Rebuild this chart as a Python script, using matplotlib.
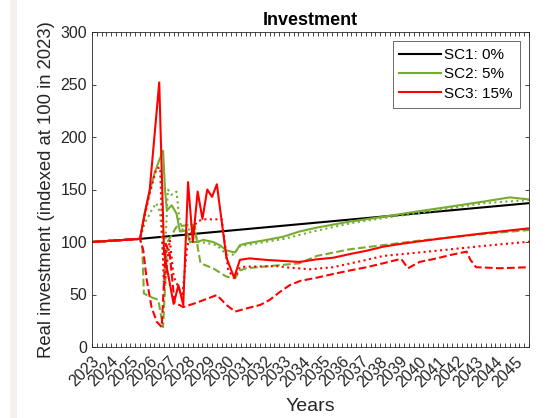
import matplotlib
matplotlib.use("Agg")
from matplotlib import pyplot as plt
from matplotlib.ticker import MultipleLocator
import matplotlib.patches as mpatches

plt.rcParams['font.family'] = ['Liberation Sans', 'DejaVu Sans']

# tick years
years = list(range(2023, 2046))
year_labels = [str(y) for y in years]

# SC1: 0%  (baseline)
sc1_t = [2023.0, 2025.5, 2045.75]
sc1_v = [100, 103, 137]

# SC2: 5%, three variants (solid / dashed / dotted)
sc2_solid_t = [2023.0, 2025.5, 2025.75, 2026.0, 2026.25, 2026.5, 2026.7, 2026.8, 2026.9, 2027.15,
               2027.4, 2027.58, 2027.9, 2028.1, 2028.45, 2028.8, 2029.3, 2029.65, 2030.0, 2030.45,
               2030.7, 2031.05, 2032.1, 2032.95, 2033.8, 2034.7, 2036.4, 2038.15, 2039.9, 2041.65,
               2043.35, 2044.75, 2045.0, 2045.75]
sc2_solid_v = [100, 103, 127, 148, 165, 178, 187, 150, 130, 135,
               127, 110, 111, 100, 100, 102, 100, 97, 92, 90,
               97, 98.7, 102, 105, 110, 113.7, 119.4, 124, 129, 133.7,
               138.4, 142.5, 142, 140.6]

sc2_dash_t = [2023.0, 2025.5, 2025.62, 2025.7, 2026.0, 2026.45, 2026.7, 2026.92, 2027.1, 2027.4,
              2027.95, 2028.35, 2028.5, 2028.65, 2029.3, 2030.0, 2030.45, 2030.7, 2031.05, 2032.8,
              2033.8, 2034.7, 2036.4, 2038.15, 2039.9, 2041.65, 2043.35, 2045.75]
sc2_dash_v = [100, 103, 95, 51, 48, 45, 19, 100, 105, 114.6,
              116, 116, 95.5, 79.7, 75, 67, 65.4, 73, 75, 78,
              79.7, 86.7, 93, 97, 101, 104.4, 107.6, 111.4]

sc2_dot_t = [2023.0, 2025.5, 2025.75, 2026.1, 2026.35, 2026.55, 2026.75, 2026.95, 2027.15, 2027.4,
             2027.55, 2027.75, 2027.95, 2028.2, 2028.5, 2029.0, 2029.5, 2030.0, 2030.35, 2030.7,
             2031.0, 2032.0, 2033.0, 2034.5, 2036.5, 2038.2, 2040.0, 2041.7, 2043.4, 2045.75]
sc2_dot_v = [100, 103, 118, 130, 137, 128, 70, 150, 145, 148,
             121, 110, 108, 118, 100, 99, 97, 88, 88, 96,
             97, 100, 103, 110, 118, 122.9, 127.6, 132.4, 137, 140]

# SC3: 15%
sc3_solid_t = [2023.0, 2025.5, 2025.75, 2026.0, 2026.5, 2026.75, 2027.25, 2027.5, 2027.75, 2028.0,
               2028.25, 2028.5, 2028.75, 2029.0, 2029.25, 2029.5, 2030.0, 2030.4, 2030.7, 2031.2,
               2032.1, 2033.0, 2033.8, 2034.7, 2035.55, 2036.45, 2037.3, 2038.15, 2039.0, 2039.9,
               2041.65, 2043.35, 2045.75]
sc3_solid_v = [100, 103, 128, 149, 252, 90, 41, 59, 40, 157,
               100, 148, 122, 150, 143, 155, 85, 66, 83, 84.4,
               82.9, 81.9, 81, 83.5, 85, 88.6, 91.7, 95.5, 98, 100.3,
               104.4, 108.2, 113]

sc3_dash_t = [2023.0, 2025.5, 2025.67, 2025.85, 2026.1, 2026.37, 2026.63, 2026.85, 2027.05, 2027.3,
              2027.55, 2027.75, 2028.35, 2029.0, 2029.5, 2030.0, 2030.45, 2031.05, 2031.75, 2032.25,
              2032.8, 2033.3, 2033.85, 2034.7, 2035.55, 2036.45, 2037.3, 2038.15, 2038.85, 2039.1,
              2039.45, 2040.05, 2040.95, 2041.65, 2042.5, 2042.7, 2043.0, 2044.25, 2045.75]
sc3_dash_v = [100, 103, 92, 64, 38, 24, 19, 98, 88, 42,
              40, 38, 41.6, 46, 49.5, 40, 33.7, 36.8, 40, 44.8,
              52.7, 59, 63, 66, 69.5, 73, 76, 79.7, 82.9, 83.8,
              75, 81, 84.4, 87.6, 90.8, 83, 76, 75, 76]

sc3_dot_t = [2023.0, 2025.5, 2025.75, 2026.0, 2026.35, 2026.55, 2026.75, 2027.05, 2027.25, 2027.5,
             2027.7, 2027.95, 2028.2, 2028.45, 2028.75, 2029.75, 2029.85, 2030.1, 2030.45, 2030.7,
             2031.0, 2032.8, 2033.0, 2034.35, 2035.55, 2037.3, 2038.15, 2039.9, 2041.65, 2043.35,
             2045.75]
sc3_dot_v = [100, 103, 125, 146, 170, 171, 54, 102, 67, 57,
             48, 95, 111, 119, 121.6, 121.6, 108, 72, 66, 76,
             76.5, 77, 76, 74, 76, 83, 86.7, 89.8, 93, 96.2,
             100.3]

green = "#77AC30"
red = "#FF0000"
axcol = "#262626"

fig = plt.figure(figsize=(5.55, 4.18), dpi=100)
# thin beige strip down the left side
fig.patches.append(mpatches.Rectangle((10 / 555, 0), 7 / 555, 1, transform=fig.transFigure,
                                      facecolor="#f4f1ea", edgecolor="none"))
ax = fig.add_axes([92 / 555, 1 - 347 / 418, 437 / 555, 315 / 418])

lw = 1.5
ax.plot(sc1_t, sc1_v, color="black", lw=lw, label="SC1: 0%")
ax.plot(sc2_solid_t, sc2_solid_v, color=green, lw=lw, label="SC2: 5%")
ax.plot(sc2_dash_t, sc2_dash_v, color=green, lw=lw, ls="--")
ax.plot(sc2_dot_t, sc2_dot_v, color=green, lw=lw, ls=":")
ax.plot(sc3_solid_t, sc3_solid_v, color=red, lw=lw, label="SC3: 15%")
ax.plot(sc3_dash_t, sc3_dash_v, color=red, lw=lw, ls="--")
ax.plot(sc3_dot_t, sc3_dot_v, color=red, lw=lw, ls=":")

ax.set_xlim(2023, 2045.75)
ax.set_ylim(0, 300)
ax.set_yticks(range(0, 301, 50))
ax.set_xticks(years)
ax.set_xticklabels(year_labels, rotation=45, ha="right", rotation_mode="anchor")
ax.xaxis.set_minor_locator(MultipleLocator(0.25))
ax.tick_params(which="both", direction="in", top=True, right=True, colors=axcol,
               labelsize=11.5, length=3, width=0.6)
ax.tick_params(axis="x", which="major", pad=5)
for s in ax.spines.values():
    s.set_color(axcol)
    s.set_linewidth(0.6)

ax.set_title("Investment", fontsize=13, fontweight="bold", pad=5)
ax.set_ylabel("Real investment (indexed at 100 in 2023)", fontsize=13.3, color=axcol, labelpad=4)
ax.set_xlabel("Years", fontsize=14, color=axcol, labelpad=6)

leg = ax.legend(loc="upper right", fontsize=11, frameon=True, fancybox=False,
                handlelength=2.7, handletextpad=0.25, borderaxespad=0.6, labelspacing=0.35,
                borderpad=0.45)
leg.get_frame().set_edgecolor(axcol)
leg.get_frame().set_linewidth(0.6)

fig.savefig("out.png", dpi=100)
